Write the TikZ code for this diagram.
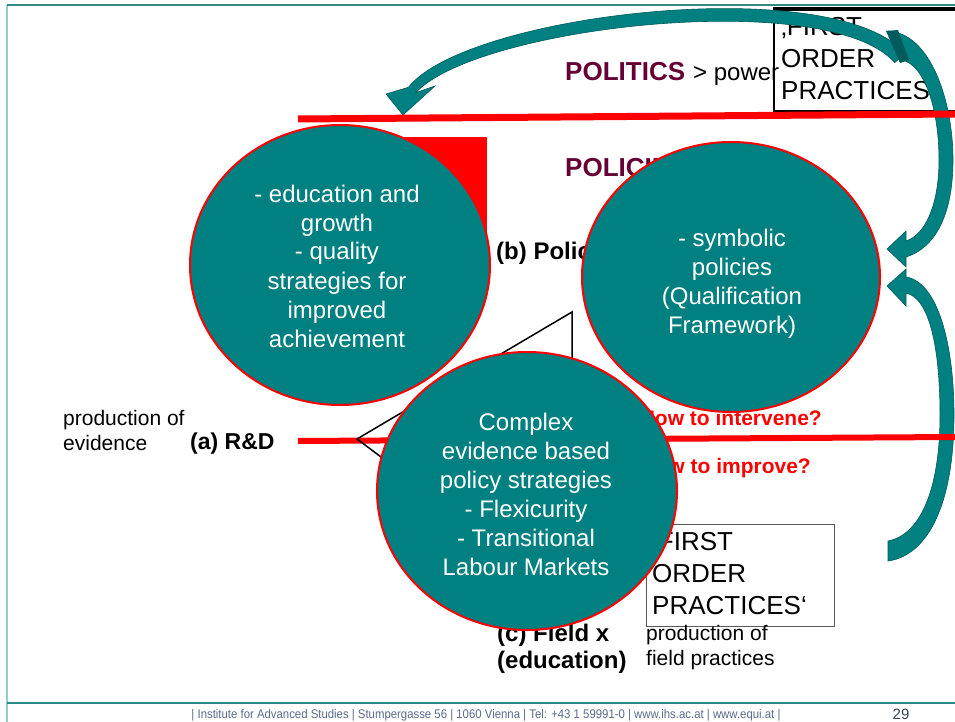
\documentclass[tikz,border=0pt]{standalone}
\usepackage{fontspec}
\setmainfont{Liberation Sans}
\newfontfamily\footfont[FakeStretch=0.91]{Liberation Sans}
\usetikzlibrary{shapes.geometric}
\definecolor{tealc}{HTML}{008080}
\definecolor{tealdk}{HTML}{005C5C}
\definecolor{plum}{HTML}{660033}
\definecolor{frameA}{HTML}{2E8A85}
\definecolor{frameB}{HTML}{8FCFC8}
\definecolor{footc}{HTML}{5A6A88}
\definecolor{pagenum}{HTML}{34445F}
\newcommand{\mystack}[1]{\begin{tabular}[t]{@{}c@{}}#1\end{tabular}}
\newcommand{\mystackl}[1]{\begin{tabular}[t]{@{}l@{}}#1\end{tabular}}
\begin{document}
\begin{tikzpicture}[x=1pt,y=-1pt,
  bubble/.style={ellipse, fill=tealc, draw=red, line width=2pt, inner sep=0pt},
  ctext/.style={text=white, inner sep=0pt, anchor=base, font=\fontsize{24}{29}\selectfont},
  boxtext/.style={inner sep=0pt, anchor=base west, font=\fontsize{26}{32}\selectfont},
  heading/.style={inner sep=0pt, anchor=base west, text=plum, font=\bfseries\fontsize{26}{30}\selectfont},
  boldlab/.style={inner sep=0pt, anchor=base west, font=\bfseries\fontsize{24}{27}\selectfont},
  plainlab/.style={inner sep=0pt, anchor=base west, font=\fontsize{21}{25}\selectfont},
  question/.style={inner sep=0pt, anchor=base east, text=red, font=\bfseries\fontsize{21}{25}\selectfont},
  bigarrow/.style={fill=tealc, draw=tealdk, line width=0.6pt},
  redbar/.style={red, line width=#1},
]
\useasboundingbox (0,0) rectangle (955,722);
\clip (0,0) rectangle (955,722);

% frame
\draw[frameB, line width=2pt] (7,5) -- (7,722);
\draw[frameA, line width=2pt] (7,5) -- (955,5);
\draw[frameA, line width=2pt] (7,703) -- (955,703);

% red block behind left bubble
\fill[red] (370,137) rectangle (487,250);

% boxes
\node[draw, line width=2pt, anchor=north west, minimum width=195pt, minimum height=101pt, inner sep=0pt] (fotop) at (773,9) {};
\draw[line width=3pt] (fotop.north west) -- (fotop.north east);
\node[boxtext] (fotoptxt) at (781,36) {\mystackl{‚FIRST\\ORDER\\PRACTICES‘}};
\node[draw=black!65, line width=1pt, anchor=north west, minimum width=188pt, minimum height=102pt, inner sep=0pt] (fobot) at (646,524) {};
\node[boxtext] (fobottxt) at (652,550) {\mystackl{‚FIRST\\ORDER\\PRACTICES‘}};

% labels
\node[heading] (politics) at (565,81) {POLITICS};
\node[inner sep=0pt, anchor=base west, font=\fontsize{24}{28}\selectfont] (power) at (693,81) {> power};
\node[heading] (policies) at (565,177) {POLICIES};
\node[boldlab] (policy) at (496,259) {(b) Policy};
\node[plainlab] (prodev) at (63,425) {\mystackl{production of\\evidence}};
\node[boldlab, font=\bfseries\fontsize{23}{27}\selectfont] (rd) at (190,449) {(a) R\&D};
\node[question] (intervene) at (822,425) {How to intervene?};
\node[question] (improve) at (811,473) {How to improve?};
\node[boldlab] (field) at (497,641) {\mystackl{(c) Field x\\(education)}};
\node[plainlab] (prodfield) at (646,640) {\mystackl{production of\\field practices}};

% curved block arrows
\fill[bigarrow] (905.3,53.4) .. controls (832,-29) and (466,14) .. (408.4,87.3)
  -- (386,94) -- (403,115) -- (435,86) -- (415.6,92.7)
  .. controls (478,26) and (828,-13) .. (894.7,62.6) -- cycle;
\fill[bigarrow] (888,31) .. controls (930,33) and (953,100) .. (953,160)
  .. controls (953,215) and (935,248) .. (906,257)
  -- (906,267) -- (887,249) -- (906,231) -- (906,241)
  .. controls (925,235) and (939,205) .. (939,160)
  .. controls (939,110) and (925,65) .. (902,60) -- cycle;
\fill[tealdk] (886,31) -- (898,30) -- (909,60) -- (900,63) -- cycle;
\fill[bigarrow] (906,277) .. controls (938,282) and (954,345) .. (954,415)
  .. controls (954,500) and (930,555) .. (888,561)
  -- (888,541) .. controls (920,535) and (940,490) .. (940,415)
  .. controls (940,350) and (930,298) .. (906,293)
  -- (906,306) -- (887,286) -- (906,269) -- cycle;

% red bars
\draw[redbar=7pt] (298,119) -- (955,114);
\draw[redbar=6pt] (298,441) -- (955,437);

% triangle
\draw[black, line width=1.5pt, line join=miter] (357,439) -- (572,312) -- (572,600) -- cycle;

% bubbles
\node[bubble, minimum width=300pt, minimum height=280pt] (left) at (340,265) {};
\node[ctext] (lefttxt) at (337,202) {\mystack{- education and\\growth\\- quality\\strategies for\\improved\\achievement}};
\node[bubble, minimum width=298pt, minimum height=270pt] (right) at (731,277) {};
\node[ctext] (righttxt) at (732,246) {\mystack{- symbolic\\policies\\(Qualification\\Framework)}};
\node[bubble, minimum width=300pt, minimum height=278pt] (bottom) at (527,491) {};
\node[ctext] (bottomtxt) at (526,430) {\mystack{Complex\\evidence based\\policy strategies\\- Flexicurity\\- Transitional\\Labour Markets}};

% footer
\node[inner sep=0pt, anchor=base, text=footc, font=\footfont\fontsize{12.5}{14}\selectfont] (footer) at (486,718) {| Institute for Advanced Studies | Stumpergasse 56 | 1060 Vienna | Tel: +43 1 59991-0 | www.ihs.ac.at | www.equi.at |};
\node[inner sep=0pt, anchor=base, text=pagenum, font=\fontsize{15}{18}\selectfont] (page) at (901,719) {29};
\end{tikzpicture}
\end{document}
